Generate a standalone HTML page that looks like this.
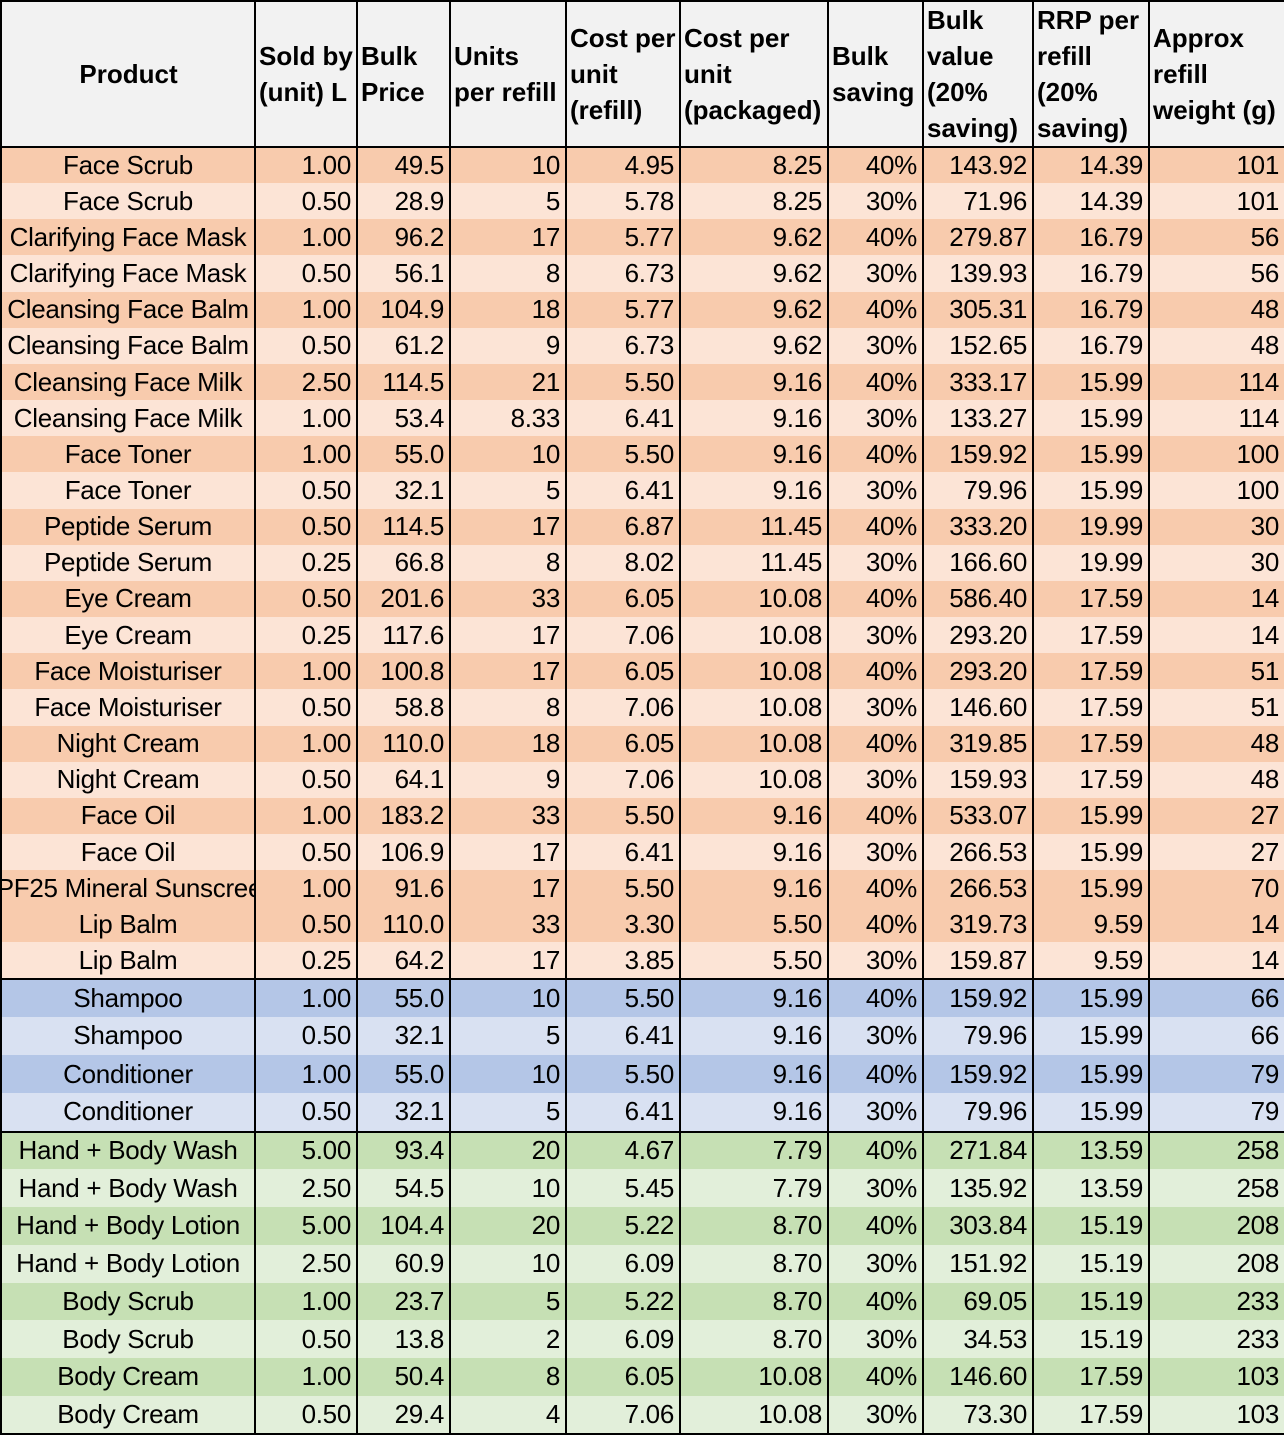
<!DOCTYPE html>
<html><head><meta charset="utf-8"><style>
*{margin:0;padding:0;box-sizing:border-box}
body{width:1284px;height:1433px;background:#fff;overflow:hidden;font-family:"Liberation Sans",Arial,sans-serif}
table{border-collapse:collapse;table-layout:fixed;width:1284px;position:absolute;left:0;top:0}
td,th{border-left:2px solid #000;border-right:2px solid #000;font-size:26px;letter-spacing:-0.3px;padding:0 5px 0 3px;text-align:right;white-space:nowrap;overflow:hidden;color:#000;font-weight:normal}
th{background:#f2f2f2;font-weight:bold;font-size:26px;letter-spacing:0;text-align:left;line-height:36px;height:146px;vertical-align:middle;white-space:normal;border-top:2px solid #000;border-bottom:2px solid #000;padding:0 2px 0 3px}
td:first-child{text-align:center;padding:0;text-overflow:clip}
td:first-child div{width:252px;display:flex;justify-content:center;overflow:hidden}
td:first-child div span{white-space:nowrap}
.o td{height:36.17px}
.b td{height:38.25px}
.g td{height:37.75px}
.o1 td{background:#f8cbad}.o2 td{background:#fce4d6}
.b1 td{background:#b4c6e7}.b2 td{background:#d9e1f2}
.g1 td{background:#c6e0b4}.g2 td{background:#e2efda}
.sep td{border-top:2px solid #000}
.last td{border-bottom:2px solid #000}
</style></head><body>
<table>
<colgroup><col style="width:254px"><col style="width:102px"><col style="width:93px"><col style="width:116px"><col style="width:114px"><col style="width:148px"><col style="width:95px"><col style="width:110px"><col style="width:116px"><col style="width:136px"></colgroup>
<tr><th style="text-align:center">Product</th><th>Sold by (unit) L</th><th>Bulk Price</th><th>Units<br>per refill</th><th>Cost per unit (refill)</th><th>Cost per unit (packaged)</th><th>Bulk saving</th><th>Bulk value (20% saving)</th><th>RRP per refill (20% saving)</th><th>Approx refill weight (g)</th></tr>
<tr class="o o1"><td><div><span>Face Scrub</span></div></td><td>1.00</td><td>49.5</td><td>10</td><td>4.95</td><td>8.25</td><td>40%</td><td>143.92</td><td>14.39</td><td>101</td></tr>
<tr class="o o2"><td><div><span>Face Scrub</span></div></td><td>0.50</td><td>28.9</td><td>5</td><td>5.78</td><td>8.25</td><td>30%</td><td>71.96</td><td>14.39</td><td>101</td></tr>
<tr class="o o1"><td><div><span>Clarifying Face Mask</span></div></td><td>1.00</td><td>96.2</td><td>17</td><td>5.77</td><td>9.62</td><td>40%</td><td>279.87</td><td>16.79</td><td>56</td></tr>
<tr class="o o2"><td><div><span>Clarifying Face Mask</span></div></td><td>0.50</td><td>56.1</td><td>8</td><td>6.73</td><td>9.62</td><td>30%</td><td>139.93</td><td>16.79</td><td>56</td></tr>
<tr class="o o1"><td><div><span>Cleansing Face Balm</span></div></td><td>1.00</td><td>104.9</td><td>18</td><td>5.77</td><td>9.62</td><td>40%</td><td>305.31</td><td>16.79</td><td>48</td></tr>
<tr class="o o2"><td><div><span>Cleansing Face Balm</span></div></td><td>0.50</td><td>61.2</td><td>9</td><td>6.73</td><td>9.62</td><td>30%</td><td>152.65</td><td>16.79</td><td>48</td></tr>
<tr class="o o1"><td><div><span>Cleansing Face Milk</span></div></td><td>2.50</td><td>114.5</td><td>21</td><td>5.50</td><td>9.16</td><td>40%</td><td>333.17</td><td>15.99</td><td>114</td></tr>
<tr class="o o2"><td><div><span>Cleansing Face Milk</span></div></td><td>1.00</td><td>53.4</td><td>8.33</td><td>6.41</td><td>9.16</td><td>30%</td><td>133.27</td><td>15.99</td><td>114</td></tr>
<tr class="o o1"><td><div><span>Face Toner</span></div></td><td>1.00</td><td>55.0</td><td>10</td><td>5.50</td><td>9.16</td><td>40%</td><td>159.92</td><td>15.99</td><td>100</td></tr>
<tr class="o o2"><td><div><span>Face Toner</span></div></td><td>0.50</td><td>32.1</td><td>5</td><td>6.41</td><td>9.16</td><td>30%</td><td>79.96</td><td>15.99</td><td>100</td></tr>
<tr class="o o1"><td><div><span>Peptide Serum</span></div></td><td>0.50</td><td>114.5</td><td>17</td><td>6.87</td><td>11.45</td><td>40%</td><td>333.20</td><td>19.99</td><td>30</td></tr>
<tr class="o o2"><td><div><span>Peptide Serum</span></div></td><td>0.25</td><td>66.8</td><td>8</td><td>8.02</td><td>11.45</td><td>30%</td><td>166.60</td><td>19.99</td><td>30</td></tr>
<tr class="o o1"><td><div><span>Eye Cream</span></div></td><td>0.50</td><td>201.6</td><td>33</td><td>6.05</td><td>10.08</td><td>40%</td><td>586.40</td><td>17.59</td><td>14</td></tr>
<tr class="o o2"><td><div><span>Eye Cream</span></div></td><td>0.25</td><td>117.6</td><td>17</td><td>7.06</td><td>10.08</td><td>30%</td><td>293.20</td><td>17.59</td><td>14</td></tr>
<tr class="o o1"><td><div><span>Face Moisturiser</span></div></td><td>1.00</td><td>100.8</td><td>17</td><td>6.05</td><td>10.08</td><td>40%</td><td>293.20</td><td>17.59</td><td>51</td></tr>
<tr class="o o2"><td><div><span>Face Moisturiser</span></div></td><td>0.50</td><td>58.8</td><td>8</td><td>7.06</td><td>10.08</td><td>30%</td><td>146.60</td><td>17.59</td><td>51</td></tr>
<tr class="o o1"><td><div><span>Night Cream</span></div></td><td>1.00</td><td>110.0</td><td>18</td><td>6.05</td><td>10.08</td><td>40%</td><td>319.85</td><td>17.59</td><td>48</td></tr>
<tr class="o o2"><td><div><span>Night Cream</span></div></td><td>0.50</td><td>64.1</td><td>9</td><td>7.06</td><td>10.08</td><td>30%</td><td>159.93</td><td>17.59</td><td>48</td></tr>
<tr class="o o1"><td><div><span>Face Oil</span></div></td><td>1.00</td><td>183.2</td><td>33</td><td>5.50</td><td>9.16</td><td>40%</td><td>533.07</td><td>15.99</td><td>27</td></tr>
<tr class="o o2"><td><div><span>Face Oil</span></div></td><td>0.50</td><td>106.9</td><td>17</td><td>6.41</td><td>9.16</td><td>30%</td><td>266.53</td><td>15.99</td><td>27</td></tr>
<tr class="o o1"><td><div><span>SPF25 Mineral Sunscreen</span></div></td><td>1.00</td><td>91.6</td><td>17</td><td>5.50</td><td>9.16</td><td>40%</td><td>266.53</td><td>15.99</td><td>70</td></tr>
<tr class="o o1"><td><div><span>Lip Balm</span></div></td><td>0.50</td><td>110.0</td><td>33</td><td>3.30</td><td>5.50</td><td>40%</td><td>319.73</td><td>9.59</td><td>14</td></tr>
<tr class="o o2"><td><div><span>Lip Balm</span></div></td><td>0.25</td><td>64.2</td><td>17</td><td>3.85</td><td>5.50</td><td>30%</td><td>159.87</td><td>9.59</td><td>14</td></tr>
<tr class="b b1 sep"><td><div><span>Shampoo</span></div></td><td>1.00</td><td>55.0</td><td>10</td><td>5.50</td><td>9.16</td><td>40%</td><td>159.92</td><td>15.99</td><td>66</td></tr>
<tr class="b b2"><td><div><span>Shampoo</span></div></td><td>0.50</td><td>32.1</td><td>5</td><td>6.41</td><td>9.16</td><td>30%</td><td>79.96</td><td>15.99</td><td>66</td></tr>
<tr class="b b1"><td><div><span>Conditioner</span></div></td><td>1.00</td><td>55.0</td><td>10</td><td>5.50</td><td>9.16</td><td>40%</td><td>159.92</td><td>15.99</td><td>79</td></tr>
<tr class="b b2"><td><div><span>Conditioner</span></div></td><td>0.50</td><td>32.1</td><td>5</td><td>6.41</td><td>9.16</td><td>30%</td><td>79.96</td><td>15.99</td><td>79</td></tr>
<tr class="g g1 sep"><td><div><span>Hand + Body Wash</span></div></td><td>5.00</td><td>93.4</td><td>20</td><td>4.67</td><td>7.79</td><td>40%</td><td>271.84</td><td>13.59</td><td>258</td></tr>
<tr class="g g2"><td><div><span>Hand + Body Wash</span></div></td><td>2.50</td><td>54.5</td><td>10</td><td>5.45</td><td>7.79</td><td>30%</td><td>135.92</td><td>13.59</td><td>258</td></tr>
<tr class="g g1"><td><div><span>Hand + Body Lotion</span></div></td><td>5.00</td><td>104.4</td><td>20</td><td>5.22</td><td>8.70</td><td>40%</td><td>303.84</td><td>15.19</td><td>208</td></tr>
<tr class="g g2"><td><div><span>Hand + Body Lotion</span></div></td><td>2.50</td><td>60.9</td><td>10</td><td>6.09</td><td>8.70</td><td>30%</td><td>151.92</td><td>15.19</td><td>208</td></tr>
<tr class="g g1"><td><div><span>Body Scrub</span></div></td><td>1.00</td><td>23.7</td><td>5</td><td>5.22</td><td>8.70</td><td>40%</td><td>69.05</td><td>15.19</td><td>233</td></tr>
<tr class="g g2"><td><div><span>Body Scrub</span></div></td><td>0.50</td><td>13.8</td><td>2</td><td>6.09</td><td>8.70</td><td>30%</td><td>34.53</td><td>15.19</td><td>233</td></tr>
<tr class="g g1"><td><div><span>Body Cream</span></div></td><td>1.00</td><td>50.4</td><td>8</td><td>6.05</td><td>10.08</td><td>40%</td><td>146.60</td><td>17.59</td><td>103</td></tr>
<tr class="g g2 last"><td><div><span>Body Cream</span></div></td><td>0.50</td><td>29.4</td><td>4</td><td>7.06</td><td>10.08</td><td>30%</td><td>73.30</td><td>17.59</td><td>103</td></tr>
</table>
</body></html>
